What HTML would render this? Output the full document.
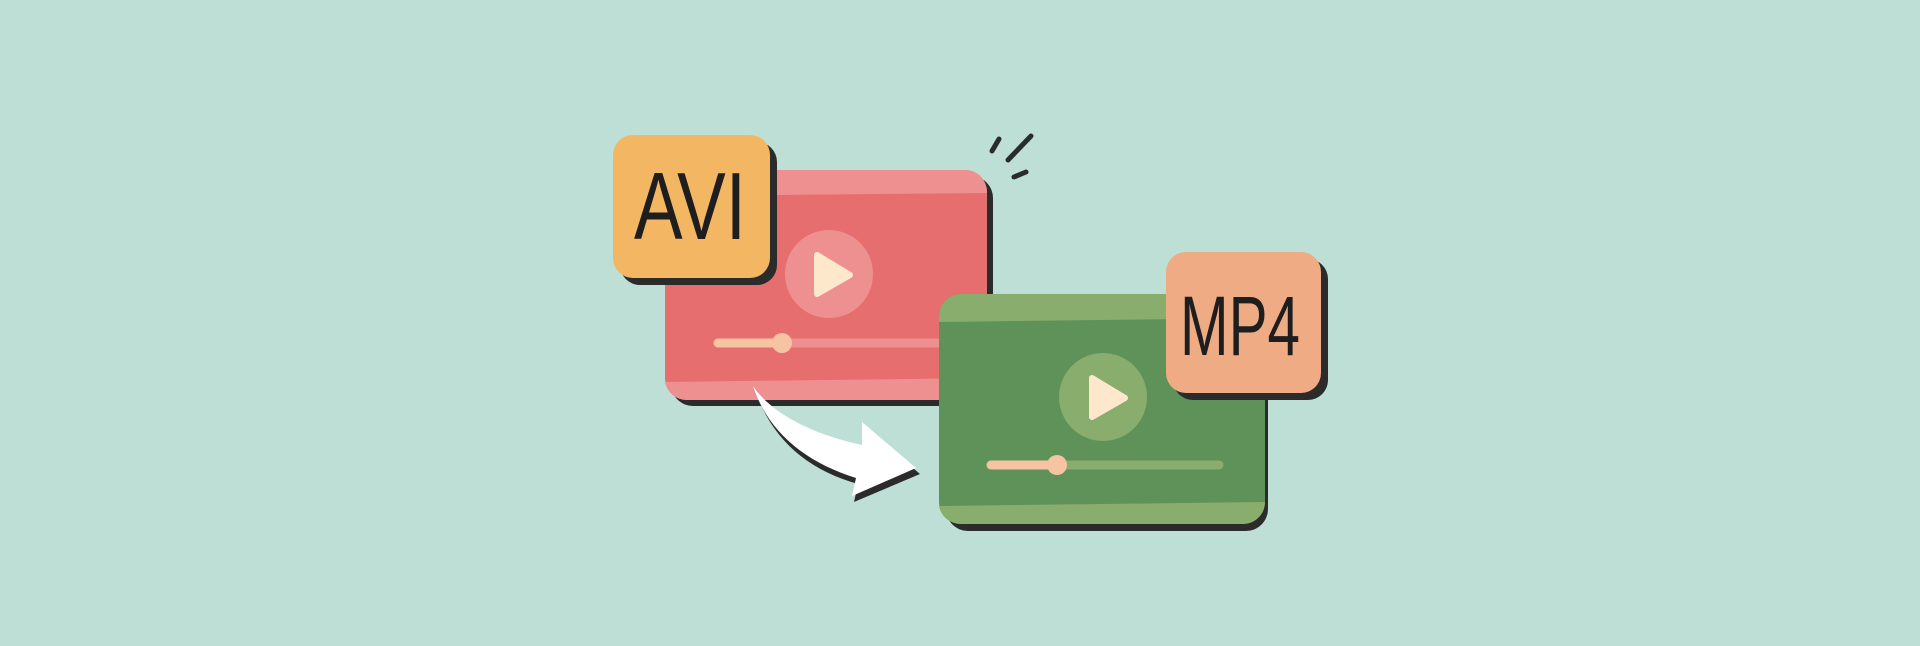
<!DOCTYPE html>
<html><head><style>
html,body{margin:0;padding:0;background:#bedfd5;}
svg{display:block}
text{font-family:"Liberation Sans",sans-serif;}
</style></head><body>
<svg width="1920" height="646" viewBox="0 0 1920 646" xmlns="http://www.w3.org/2000/svg">
<rect width="1920" height="646" fill="#bedfd5"/>
<!-- red video -->
<rect x="671" y="176" width="322" height="230" rx="22" fill="#2b2b2b"/>
<rect x="665" y="170" width="322" height="230" rx="22" fill="#e76e6e"/>
<path d="M687 170 H965 a22 22 0 0 1 22 22 V193 L665 196 V192 a22 22 0 0 1 22-22z" fill="#ef9090"/>
<path d="M665 382 L987 378 V378 a22 22 0 0 1 -22 22 H687 a22 22 0 0 1 -22-18z" fill="#ef9090"/>
<circle cx="829" cy="274" r="44" fill="#ef9090"/>
<path d="M817 255 L850 275 L817 294 Z" fill="#fde8cc" stroke="#fde8cc" stroke-width="6" stroke-linejoin="round"/>
<line x1="718" y1="343" x2="943" y2="343" stroke="#ef9090" stroke-width="9" stroke-linecap="round"/>
<line x1="718" y1="343" x2="782" y2="343" stroke="#f6c3a3" stroke-width="9" stroke-linecap="round"/>
<circle cx="782" cy="343" r="10" fill="#f6c3a3"/>
<!-- AVI box -->
<rect x="620" y="142" width="157" height="143" rx="20" fill="#2b2b2b"/>
<rect x="613" y="135" width="157" height="143" rx="20" fill="#f3b662"/>
<text x="690" y="239" text-anchor="middle" font-size="96" fill="#1e1e1e" textLength="112" lengthAdjust="spacingAndGlyphs" transform="translate(690 239) scale(1 1) translate(-690 -239)">AVI</text>
<!-- green video -->
<rect x="946" y="301" width="322" height="230" rx="22" fill="#2b2b2b"/>
<rect x="939" y="294" width="326" height="230" rx="22" fill="#5f9259"/>
<path d="M961 294 H1243 a22 22 0 0 1 22 22 V318 L939 322 V316 a22 22 0 0 1 22-22z" fill="#89ad6c"/>
<path d="M939 506 L1265 502 a22 22 0 0 1 -22 22 H961 a22 22 0 0 1 -22-18z" fill="#89ad6c"/>
<circle cx="1103" cy="397" r="44" fill="#89ad6c"/>
<path d="M1092 378 L1125 398 L1092 417 Z" fill="#fde8cc" stroke="#fde8cc" stroke-width="6" stroke-linejoin="round"/>
<line x1="991" y1="465" x2="1219" y2="465" stroke="#89ad6c" stroke-width="9" stroke-linecap="round"/>
<line x1="991" y1="465" x2="1057" y2="465" stroke="#f6c3a3" stroke-width="9" stroke-linecap="round"/>
<circle cx="1057" cy="465" r="10" fill="#f6c3a3"/>
<!-- MP4 box -->
<rect x="1173" y="259" width="155" height="141" rx="20" fill="#2b2b2b"/>
<rect x="1166" y="252" width="155" height="141" rx="20" fill="#efac84"/>
<text x="1240" y="355" text-anchor="middle" font-size="84" fill="#1e1e1e" textLength="120" lengthAdjust="spacingAndGlyphs">MP4</text>
<!-- arrow -->
<path d="M755 390 C772 440 808 470 858 484 L854 502 L920 474 L864 426 L864 449 C814 438 774 418 755 390Z" fill="#2b2b2b"/>
<path d="M753 386 C768 432 805 462 856 478 L852 496 L916 468 L862 422 L862 445 C812 434 772 414 753 386Z" fill="#ffffff"/>
<!-- sparkles -->
<g stroke="#2b2b2b" stroke-width="5" stroke-linecap="round" fill="none">
<path d="M992 151 L999 139"/>
<path d="M1008 160 L1031 136"/>
<path d="M1014 177 L1026 172"/>
</g>
</svg>
</body></html>
